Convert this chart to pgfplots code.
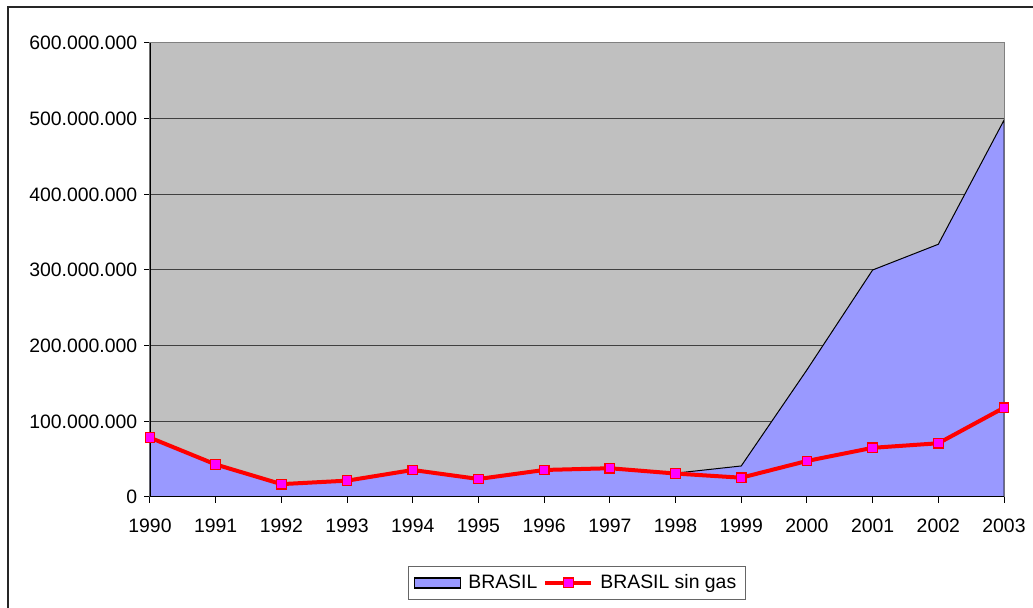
\documentclass[border=0pt]{standalone}
\usepackage{fontspec}
\setmainfont{Liberation Sans}
\usepackage{pgfplots}
\pgfplotsset{compat=1.18}
\definecolor{areablue}{HTML}{9999FF}
\definecolor{plotgray}{HTML}{C0C0C0}
\definecolor{mag}{HTML}{FF00FF}
\begin{document}
\fontsize{9.7}{11.5}\selectfont
\begin{tikzpicture}
\useasboundingbox (-75pt,-55.5pt) rectangle (441.5pt,248.5pt);
% outer chart frame (runs off the right and bottom edges)
\draw[line width=0.8pt, black!85] (-71pt,-90pt) -- (-71pt,245pt) -- (480pt,245pt);
\begin{axis}[
  at={(0,0)}, anchor=south west,
  width=427pt, height=227pt, scale only axis,
  xmin=1990, xmax=2003, ymin=0, ymax=600000000,
  xtick={1990,1991,1992,1993,1994,1995,1996,1997,1998,1999,2000,2001,2002,2003},
  ytick={0,100000000,200000000,300000000,400000000,500000000,600000000},
  scaled y ticks=false,
  /pgf/number format/assume math mode=true,
  xticklabel style={/pgf/number format/1000 sep={}, yshift=-4.5pt},
  yticklabel style={/pgf/number format/.cd, fixed, precision=0, 1000 sep={.}},
  ticklabel style={font=\fontsize{9.7}{11.5}\selectfont},
  xtick pos=bottom, ytick pos=left,
  tick align=outside, major tick length=3pt,
  tick style={draw=black, line width=0.5pt},
  axis line style={draw=black!50, line width=0.5pt},
  axis background/.style={fill=plotgray},
  ymajorgrids, grid style={draw=black!75, line width=0.5pt},
  legend style={at={(0.5,-0.189)}, anchor=center, draw=black!60,
    line width=0.5pt, font=\fontsize{9.7}{11.5}\selectfont,
    inner xsep=2.5pt, inner ysep=2pt,
    /tikz/every odd column/.append style={column sep=1.5pt},
    /tikz/every even column/.append style={column sep=1pt}},
  legend columns=2,
]
\addplot[fill=areablue, draw=black, line width=0.5pt,
  legend image code/.code={\draw[fill=areablue, draw=black, line width=0.8pt]
    (0pt,-2.5pt) rectangle (23pt,2.5pt);}]
  coordinates {(1990,78400000) (1991,43000000) (1992,17000000) (1993,21600000)
    (1994,35700000) (1995,23800000) (1996,35700000) (1997,38000000)
    (1998,31500000) (1999,41000000) (2000,168000000) (2001,300000000)
    (2002,334000000) (2003,498000000)} \closedcycle;
\addlegendentry{BRASIL}
\addplot[draw=red, line width=2pt, mark=square*, mark size=2.4pt,
  mark options={fill=mag, draw=red, line width=0.6pt},
  legend image code/.code={\draw[red, line width=2pt] (0pt,0pt) -- (23pt,0pt);
    \draw[fill=mag, draw=red, line width=0.6pt] (9pt,-2.4pt) rectangle (14pt,2.4pt);}]
  coordinates {(1990,78400000) (1991,43000000) (1992,17000000) (1993,21600000)
    (1994,35700000) (1995,23800000) (1996,35700000) (1997,38000000)
    (1998,31000000) (1999,25500000) (2000,47600000) (2001,65000000)
    (2002,71000000) (2003,118000000)};
\addlegendentry{BRASIL sin gas}
\draw[black, line width=0.6pt] (rel axis cs:0,1) -- (rel axis cs:0,0) -- (rel axis cs:1,0);
\end{axis}
\end{tikzpicture}
\end{document}
